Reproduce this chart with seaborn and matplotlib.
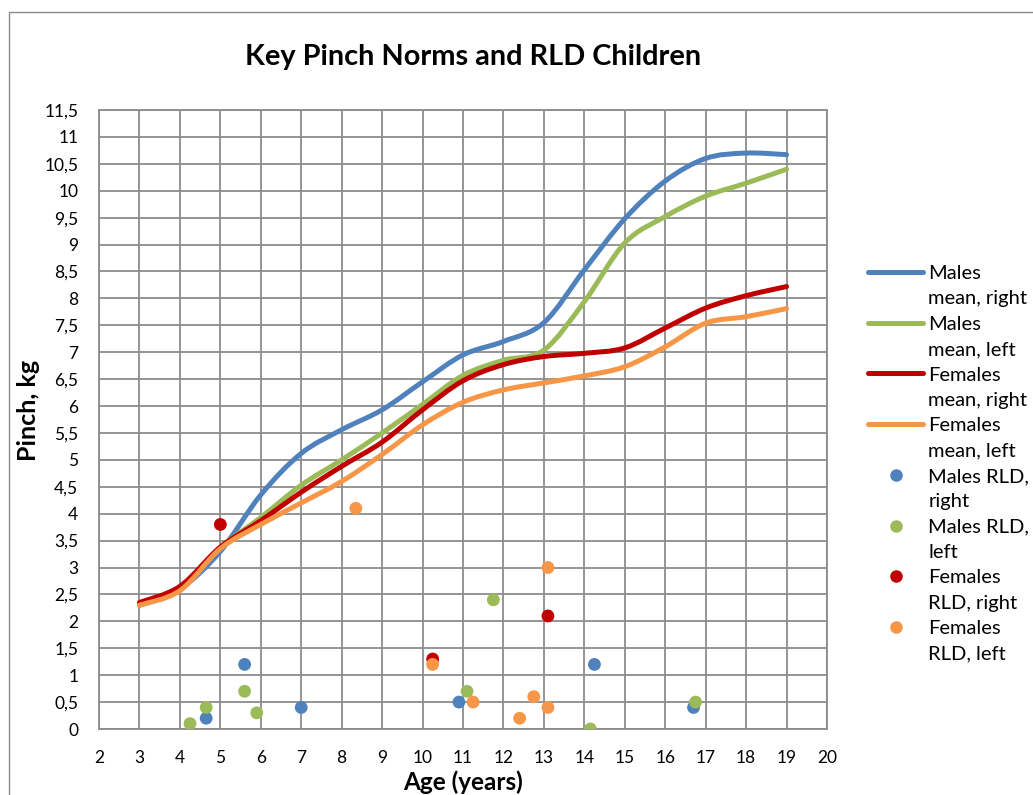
import numpy as np
import pandas as pd
import matplotlib
matplotlib.use("Agg")
import matplotlib.pyplot as plt
from matplotlib.path import Path
from matplotlib.patches import PathPatch, Rectangle
from matplotlib.lines import Line2D
import seaborn as sns

# ---- norm curves (mean key pinch, kg) by age ----
ages = [3, 4, 5, 6, 7, 8, 9, 10, 11, 12, 13, 14, 15, 16, 17, 18, 19]
males_right = [2.3, 2.6, 3.3, 4.35, 5.12, 5.56, 5.93, 6.45, 6.95, 7.2, 7.55, 8.53, 9.48, 10.18, 10.6, 10.7, 10.67]
males_left = [2.3, 2.6, 3.37, 3.93, 4.53, 5.0, 5.5, 6.03, 6.57, 6.85, 7.04, 7.94, 9.03, 9.52, 9.9, 10.14, 10.4]
females_right = [2.35, 2.65, 3.38, 3.87, 4.4, 4.88, 5.33, 5.93, 6.47, 6.77, 6.92, 6.98, 7.08, 7.45, 7.82, 8.05, 8.22]
females_left = [2.3, 2.57, 3.35, 3.8, 4.2, 4.6, 5.1, 5.65, 6.07, 6.3, 6.43, 6.56, 6.73, 7.1, 7.54, 7.66, 7.81]

# ---- RLD children (individual measurements) ----
m_rld_right_age = [4.65, 5.6, 7.0, 10.9, 14.25, 16.7]
m_rld_right_val = [0.2, 1.2, 0.4, 0.5, 1.2, 0.4]
m_rld_left_age = [4.25, 4.65, 5.6, 5.9, 11.1, 11.75, 14.15, 16.75]
m_rld_left_val = [0.1, 0.4, 0.7, 0.3, 0.7, 2.4, 0.0, 0.5]
f_rld_right_age = [5.0, 10.25, 13.1]
f_rld_right_val = [3.8, 1.3, 2.1]
f_rld_left_age = [8.35, 10.25, 11.25, 12.4, 12.75, 13.1, 13.1]
f_rld_left_val = [4.1, 1.2, 0.5, 0.2, 0.6, 0.4, 3.0]

curve_names = ["Males\nmean, right", "Males\nmean, left", "Females\nmean, right", "Females\nmean, left"]
point_names = ["Males RLD,\nright", "Males RLD,\nleft", "Females\nRLD, right", "Females\nRLD, left"]
colors = ["#4F81BD", "#9BBB59", "#C00000", "#F79646"]

x_ticks = list(range(2, 21))
y_ticks = list(np.arange(0, 11.51, 0.5))
y_tick_labels = [f"{v:g}".replace(".", ",") for v in y_ticks]

W, H = 1033, 795
GRID = "#8C8C8C"

sns.set_theme(style="whitegrid")
plt.rcParams["font.family"] = ["Lato", "DejaVu Sans"]

fig = plt.figure(figsize=(W / 100, H / 100), dpi=100)
fig.patch.set_facecolor("white")

# outer chart frame
fig.add_artist(Rectangle((9 / W, -0.05), 1.2, 1 - 12 / H + 0.05, transform=fig.transFigure,
                         fill=False, edgecolor="#8A8A8A", linewidth=1.0))

ax = fig.add_axes([99 / W, 1 - 729 / H, (827 - 99) / W, (729 - 110) / H])
ax.set_facecolor("white")


def smooth_path(xs, ys):
    """Cubic Bezier path through the points (Catmull-Rom style tangents)."""
    p = np.column_stack([xs, ys]).astype(float)
    n = len(p)
    verts = [p[0]]
    codes = [Path.MOVETO]
    for i in range(n - 1):
        p0 = p[i - 1] if i > 0 else p[i]
        p1, p2 = p[i], p[i + 1]
        p3 = p[i + 2] if i + 2 < n else p[i + 1]
        c1 = p1 + (p2 - p0) / 6.0
        c2 = p2 - (p3 - p1) / 6.0
        verts += [c1, c2, p2]
        codes += [Path.CURVE4] * 3
    return Path(verts, codes)


for ys, col in zip([males_right, males_left, females_right, females_left], colors):
    ax.add_patch(PathPatch(smooth_path(ages, ys), fill=False, edgecolor=col,
                           linewidth=3.6, capstyle="round", joinstyle="round", zorder=3))

rld = pd.DataFrame({
    "age": m_rld_right_age + m_rld_left_age + f_rld_right_age + f_rld_left_age,
    "pinch": m_rld_right_val + m_rld_left_val + f_rld_right_val + f_rld_left_val,
    "group": [point_names[0]] * len(m_rld_right_age) + [point_names[1]] * len(m_rld_left_age)
             + [point_names[2]] * len(f_rld_right_age) + [point_names[3]] * len(f_rld_left_age),
})
sns.scatterplot(data=rld, x="age", y="pinch", hue="group", hue_order=point_names,
                palette=colors, s=85, linewidth=0, legend=False, ax=ax, zorder=4)

ax.set_xlim(2, 20)
ax.set_ylim(0, 11.5)
ax.set_xticks(x_ticks)
ax.set_xticklabels([str(t) for t in x_ticks])
ax.set_yticks(y_ticks)
ax.set_yticklabels(y_tick_labels)
ax.grid(True, color=GRID, linewidth=1.3)
for sp in ax.spines.values():
    sp.set_visible(True)
    sp.set_color(GRID)
    sp.set_linewidth(1.3)
ax.tick_params(axis="both", length=0, labelsize=12.5, colors="black")
ax.tick_params(axis="x", pad=15)
ax.tick_params(axis="y", pad=15)
ax.set_xlabel("")
ax.set_ylabel("")

# titles and axis captions
fig.text(473 / W, 1 - 57 / H, "Key Pinch Norms and RLD Children", ha="center", va="center",
         fontsize=20.8, fontweight="bold", color="black")
fig.text(463 / W, 1 - 794 / H, "Age (years)", ha="center", va="bottom",
         fontsize=17.5, fontweight="bold", color="black")
fig.text(28 / W, 1 - 410 / H, "Pinch, kg", ha="center", va="center", rotation=90,
         fontsize=18, fontweight="bold", color="black")

# legend: handle on the first line of each two-line label
handles, labels = [], []
blank = Line2D([], [], linestyle="none")
for name, col in zip(curve_names, colors):
    first, second = name.split("\n")
    handles += [Line2D([], [], color=col, linewidth=3.6, solid_capstyle="round"), blank]
    labels += [first, second]
for name, col in zip(point_names, colors):
    first, second = name.split("\n")
    handles += [Line2D([], [], color=col, marker="o", markersize=8, linestyle="none"), blank]
    labels += [first, second]

fig.legend(handles, labels, loc="upper left", bbox_to_anchor=(868 / W, 1 - 265 / H),
           frameon=False, fontsize=14.5, handlelength=2.74, handletextpad=0.25,
           labelspacing=0.41, borderpad=0, borderaxespad=0, labelcolor="black")

fig.savefig("out.png", dpi=100, facecolor="white")
